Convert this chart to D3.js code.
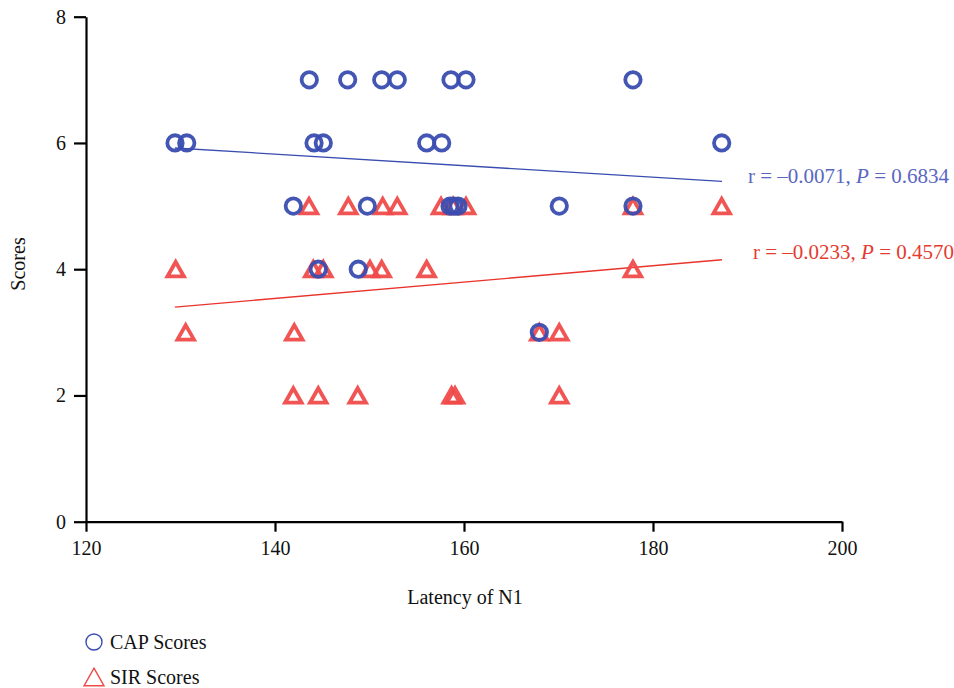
<!DOCTYPE html>
<html>
<head>
<meta charset="utf-8">
<script src="https://cdn.jsdelivr.net/npm/d3@7"></script>
<style>
  html, body { margin: 0; padding: 0; background: #fff; }
  svg { display: block; }
  text { font-family: "Liberation Serif", "Times New Roman", serif; }
</style>
</head>
<body>
<svg id="chart" width="954" height="688"></svg>
<script>
// ---- data ----
const xTicks = [120, 140, 160, 180, 200];
const yTicks = [0, 2, 4, 6, 8];

const capLatency = [143.63, 147.69, 151.29, 152.94, 158.62, 160.21, 177.88,
                    129.42, 130.66, 144.13, 145.11, 156.05, 157.64, 187.27,
                    141.94, 149.77, 158.52, 158.94, 159.37, 170.08, 177.88,
                    144.58, 148.81,
                    167.97];
const capScores  = [7, 7, 7, 7, 7, 7, 7,
                    6, 6, 6, 6, 6, 6, 6,
                    5, 5, 5, 5, 5, 5, 5,
                    4, 4,
                    3];

const sirLatency = [143.60, 147.76, 151.40, 152.94, 157.57, 158.84, 160.21, 177.88, 187.27,
                    129.49, 144.05, 145.11, 150.05, 151.29, 156.05, 177.88,
                    130.55, 142.04, 167.97, 170.08,
                    141.94, 144.58, 148.75, 158.69, 159.05, 170.08];
const sirScores  = [5, 5, 5, 5, 5, 5, 5, 5, 5,
                    4, 4, 4, 4, 4, 4, 4,
                    3, 3, 3, 3,
                    2, 2, 2, 2, 2, 2];

const capFitX = [129.4, 187.3];
const capFitY = [5.92, 5.39];
const sirFitX = [129.4, 187.3];
const sirFitY = [3.40, 4.15];

const capLabel = ["r = \u20130.0071, ", "P", " = 0.6834"];
const sirLabel = ["r = \u20130.0233, ", "P", " = 0.4570"];
const legendLabels = ["CAP Scores", "SIR Scores"];

// ---- styles ----
const BLUE = "#3a4db0";
const BLUE_TXT = "#5a67bf";
const RED = "#ef4b4a";
const RED_LINE = "#e8342c";
const RED_TXT = "#e53b30";
const SERIF = "'Liberation Serif', 'Times New Roman', serif";

const svg = d3.select("#chart");
const x = d3.scaleLinear().domain([120, 200]).range([86, 842]);
const y = d3.scaleLinear().domain([0, 8]).range([521.7, 16.7]);

// axes
const gx = svg.append("g").attr("transform", `translate(0,${y(0)})`)
  .call(d3.axisBottom(x).tickValues(xTicks).tickFormat(d3.format("d")).tickSize(10).tickPadding(9).tickSizeOuter(0));
const gy = svg.append("g").attr("transform", `translate(${x(120)},0)`)
  .call(d3.axisLeft(y).tickValues(yTicks).tickFormat(d3.format("d")).tickSize(12).tickPadding(8).tickSizeOuter(0));
[gx, gy].forEach(g => {
  g.attr("font-family", SERIF).attr("font-size", 20);
  g.select(".domain").attr("stroke", "#000").attr("stroke-width", 2.2);
  g.selectAll(".tick line").attr("stroke", "#000").attr("stroke-width", 2.2);
  g.selectAll(".tick text").attr("fill", "#111");
});

// axis titles
svg.append("text").attr("x", 465).attr("y", 604).attr("text-anchor", "middle")
  .attr("font-family", SERIF).attr("font-size", 20).attr("fill", "#111").text("Latency of N1");
svg.append("text").attr("transform", "translate(25,264) rotate(-90)").attr("text-anchor", "middle")
  .attr("font-family", SERIF).attr("font-size", 20).attr("fill", "#111").text("Scores");

// regression lines
const line = d3.line().x(d => x(d[0])).y(d => y(d[1]));
svg.append("path").datum(d3.zip(capFitX, capFitY)).attr("d", line)
  .attr("fill", "none").attr("stroke", BLUE).attr("stroke-width", 1.3);
svg.append("path").datum(d3.zip(sirFitX, sirFitY)).attr("d", line)
  .attr("fill", "none").attr("stroke", RED_LINE).attr("stroke-width", 1.3);

// triangle path (bbox-centered)
function tri(s) {
  const h = s * 0.88;
  return `M0,${-h/2}L${s/2},${h/2}L${-s/2},${h/2}Z`;
}

// SIR triangles
svg.append("g").selectAll("path").data(d3.zip(sirLatency, sirScores)).join("path")
  .attr("d", tri(16.5))
  .attr("transform", d => `translate(${x(d[0])},${y(d[1])})`)
  .attr("fill", "none").attr("stroke", RED).attr("stroke-width", 3.8)
  .attr("stroke-opacity", 0.95);

// CAP circles
svg.append("g").selectAll("circle").data(d3.zip(capLatency, capScores)).join("circle")
  .attr("cx", d => x(d[0])).attr("cy", d => y(d[1])).attr("r", 7.7)
  .attr("fill", "none").attr("stroke", BLUE).attr("stroke-width", 3.8)
  .attr("stroke-opacity", 0.95);

// annotations
function annot(parts, px, py, color) {
  const t = svg.append("text").attr("x", px).attr("y", py).attr("fill", color)
    .attr("font-family", SERIF).attr("font-size", 21);
  t.append("tspan").text(parts[0]);
  t.append("tspan").attr("font-style", "italic").text(parts[1]);
  t.append("tspan").text(parts[2]);
}
annot(capLabel, 748, 183, BLUE_TXT);
annot(sirLabel, 753, 259, RED_TXT);

// legend
svg.append("circle").attr("cx", 94).attr("cy", 642).attr("r", 8)
  .attr("fill", "none").attr("stroke", BLUE).attr("stroke-width", 1.4);
svg.append("path").attr("d", tri(20)).attr("transform", "translate(94,677)")
  .attr("fill", "none").attr("stroke", RED).attr("stroke-width", 1.4);
svg.append("text").attr("x", 110).attr("y", 649).attr("font-family", SERIF).attr("font-size", 20)
  .attr("fill", "#111").text(legendLabels[0]);
svg.append("text").attr("x", 110).attr("y", 684).attr("font-family", SERIF).attr("font-size", 20)
  .attr("fill", "#111").text(legendLabels[1]);
</script>
</body>
</html>
